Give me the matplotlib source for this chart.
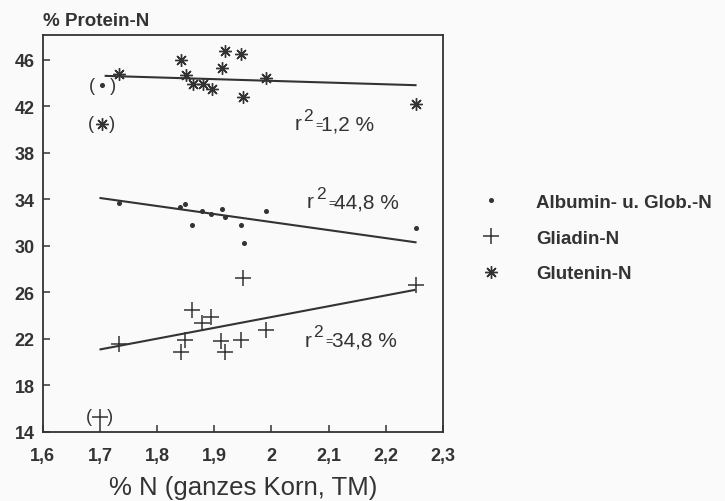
# Protein fractions vs. total N -- scatter with regression lines
import matplotlib.pyplot as plt

# --- Data --------------------------------------------------------------------
alb_x = [1.734, 1.840, 1.849, 1.861, 1.879, 1.895, 1.913, 1.919, 1.947, 1.952, 1.990, 2.252]
alb_y = [33.7, 33.3, 33.6, 31.8, 33.0, 32.7, 33.2, 32.5, 31.8, 30.2, 33.0, 31.5]
gli_x = [1.734, 1.841, 1.848, 1.861, 1.879, 1.895, 1.912, 1.918, 1.947, 1.951, 1.990, 2.252]
gli_y = [21.6, 20.9, 21.9, 24.5, 23.4, 23.9, 21.8, 20.9, 21.9, 27.2, 22.8, 26.6]
glu_x = [1.734, 1.842, 1.851, 1.862, 1.880, 1.896, 1.913, 1.919, 1.947, 1.951, 1.991, 2.253]
glu_y = [44.8, 46.0, 44.7, 43.9, 43.9, 43.5, 45.3, 46.7, 46.5, 42.8, 44.4, 42.2]

# outliers shown in brackets (not used for the fits)
alb_out = (1.704, 43.8)
gli_out = (1.700, 15.3)
glu_out = (1.703, 40.5)

# regression line end points
alb_fit_x, alb_fit_y = [1.701, 2.252], [34.1, 30.3]
gli_fit_x, gli_fit_y = [1.701, 2.250], [21.1, 26.2]
glu_fit_x, glu_fit_y = [1.710, 2.252], [44.6, 43.8]

r2_labels = ["1,2", "44,8", "34,8"]
xticks = [1.6, 1.7, 1.8, 1.9, 2.0, 2.1, 2.2, 2.3]
xticklabels = ["1,6", "1,7", "1,8", "1,9", "2", "2,1", "2,2", "2,3"]
yticks = [14, 18, 22, 26, 30, 34, 38, 42, 46]

# --- Style -------------------------------------------------------------------
ink = "#333333"
plt.rcParams['font.family'] = ['Liberation Sans', 'DejaVu Sans']

ast = (8, 2, 0)  # asterisk marker

fig = plt.figure(figsize=(7.25, 5.02), dpi=100, facecolor="#fafafa")
ax = fig.add_axes([0.059, 0.1375, 0.552, 0.7905])
ax.set_facecolor("#fafafa")

# points
h_alb, = ax.plot(alb_x, alb_y, ls='none', marker='o', ms=2.6, color=ink)
h_gli, = ax.plot(gli_x, gli_y, ls='none', marker='+', ms=11, mew=1.1, color=ink)
h_glu, = ax.plot(glu_x, glu_y, ls='none', marker=ast, ms=9, mew=1.0, color=ink)

# bracketed outliers
ax.plot(*alb_out, ls='none', marker='o', ms=2.6, color=ink)
ax.plot(*gli_out, ls='none', marker='+', ms=11, mew=1.1, color=ink)
ax.plot(*glu_out, ls='none', marker=ast, ms=9, mew=1.0, color=ink)
for px, py in [alb_out, gli_out, glu_out]:
    ax.text(px, py, "(   )", ha='center', va='center', fontsize=13, color=ink)

# regression lines
for fx, fy in [(alb_fit_x, alb_fit_y), (gli_fit_x, gli_fit_y), (glu_fit_x, glu_fit_y)]:
    ax.plot(fx, fy, color=ink, lw=1.5)

# r^2 labels: "r", raised "2", small "=", then value
r2_pos = [(2.040, 40.0), (2.062, 33.3), (2.058, 21.4)]
for (tx, ty), lab in zip(r2_pos, r2_labels):
    ax.text(tx, ty, "r", fontsize=15, color=ink, ha='left', va='baseline')
    ax.annotate("2", (tx, ty), xytext=(6.3, 7), textcoords='offset points',
                fontsize=12.5, color=ink, ha='left', va='baseline')
    ax.annotate("=", (tx, ty), xytext=(15.3, 1), textcoords='offset points',
                fontsize=9, color=ink, ha='left', va='baseline')
    ax.annotate(lab + " %", (tx, ty), xytext=(19.5, 0), textcoords='offset points',
                fontsize=15, color=ink, ha='left', va='baseline')

# axes
ax.set_xlim(1.6, 2.3)
ax.set_ylim(14, 48.1)
ax.set_xticks(xticks)
ax.set_xticklabels(xticklabels)
ax.set_yticks(yticks)
ax.tick_params(direction='in', length=5, width=1.1, colors=ink, labelsize=13)
ax.tick_params(axis='x', pad=11)
ax.tick_params(axis='y', pad=6)
for lab in ax.get_xticklabels() + ax.get_yticklabels():
    lab.set_fontweight('bold')
for sp in ax.spines.values():
    sp.set_color(ink)
    sp.set_linewidth(1.3)

ax.set_xlabel("% N (ganzes Korn, TM)", fontsize=18.5, color=ink, labelpad=8)
fig.text(0.059, 0.958, "% Protein-N", fontsize=13.5, fontweight='bold',
         color=ink, va='center')

# legend
leg = fig.legend([h_alb, h_gli, h_glu],
                 ["Albumin- u. Glob.-N", "Gliadin-N", "Glutenin-N"],
                 loc='center left', bbox_to_anchor=(0.641, 0.524),
                 frameon=False, labelspacing=1.0, handletextpad=1.9,
                 handlelength=1.0,
                 prop={'weight': 'bold', 'size': 13.5})
for t in leg.get_texts():
    t.set_color(ink)

fig.savefig("out.png", dpi=100, facecolor=fig.get_facecolor())
